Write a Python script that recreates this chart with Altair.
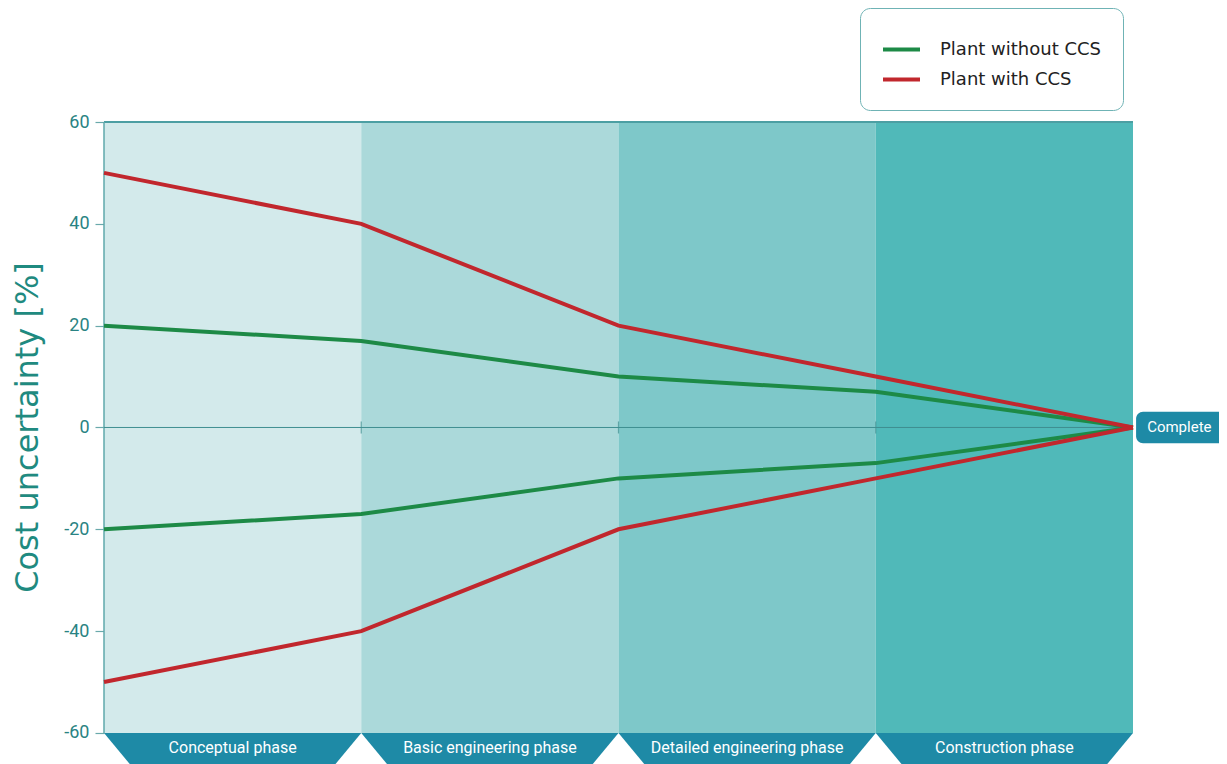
import altair as alt
import pandas as pd

# ---- data ----
stages = [0, 1, 2, 3, 4]
without_ccs = [20, 17, 10, 7, 0]      # upper bound; lower bound is the mirror
with_ccs = [50, 40, 20, 10, 0]
series_names = ["Plant without CCS", "Plant with CCS"]
series_colors = ["#1d8a46", "#c1272d"]

phases = ["Conceptual phase", "Basic engineering phase",
          "Detailed engineering phase", "Construction phase"]
phase_start = [0, 1, 2, 3]
phase_end = [1, 2, 3, 4]
phase_colors = ["#d3eaeb", "#abd9da", "#7ec8c9", "#50b9b9"]
y_ticks = [-60, -40, -20, 0, 20, 40, 60]

TEAL_TEXT = "#2a8383"
TAB = "#1e8aa6"
FONT = "Roboto"
WIDE = "DejaVu Sans"

# ---- tables ----
rows = []
for name, vals in zip(series_names, [without_ccs, with_ccs]):
    for s, v in zip(stages, vals):
        rows.append({"series": name, "bound": "upper", "x": s, "y": v})
        rows.append({"series": name, "bound": "lower", "x": s, "y": -v})
lines_df = pd.DataFrame(rows)

bands_df = pd.DataFrame({"phase": phases, "x0": phase_start, "x1": phase_end,
                         "lo": -60, "hi": 60})

TAB_BOTTOM = -66.1
d = 0.1
tab_rows = []
for p, a, b in zip(phases, phase_start, phase_end):
    for xx, yb in [(a, -60), (a + d, TAB_BOTTOM), (b - d, TAB_BOTTOM), (b, -60)]:
        tab_rows.append({"phase": p, "x": xx, "top": -60, "bot": yb})
tabs_df = pd.DataFrame(tab_rows)

labels_df = pd.DataFrame({"phase": phases,
                          "xc": [(a + b) / 2 for a, b in zip(phase_start, phase_end)],
                          "y": -62.9})

xs = alt.Scale(domain=[0, 4], nice=False, zero=False)
ys = alt.Scale(domain=[TAB_BOTTOM, 60], nice=False, zero=False)

bands = alt.Chart(bands_df).mark_rect().encode(
    x=alt.X("x0:Q", scale=xs, axis=None),
    x2="x1:Q",
    y=alt.Y("lo:Q", scale=ys,
            axis=alt.Axis(values=y_ticks, domain=False, grid=False,
                          labelExpr="'' + datum.value",
                          tickColor="#6aa9ab", tickSize=9, tickWidth=1.2,
                          labelFontSize=18, labelColor=TEAL_TEXT, labelFont=FONT,
                          labelPadding=6,
                          title="Cost uncertainty [%]", titleFontSize=32,
                          titleFont=WIDE, titleFontWeight="normal",
                          titleColor="#1f8a80", titlePadding=19, titleY=305)),
    y2="hi:Q",
    fill=alt.Fill("phase:N", scale=alt.Scale(domain=phases, range=phase_colors),
                  legend=None),
)

tabs = alt.Chart(tabs_df).mark_area(color=TAB, opacity=1).encode(
    x=alt.X("x:Q", scale=xs),
    y=alt.Y("top:Q", scale=ys),
    y2="bot:Q",
    detail="phase:N",
)

tab_text = alt.Chart(labels_df).mark_text(color="white", fontSize=16, font=FONT,
                                          baseline="middle").encode(
    x=alt.X("xc:Q", scale=xs),
    y=alt.Y("y:Q", scale=ys),
    text="phase:N",
)

frame_df = pd.DataFrame({"x0": [0], "x1": [4], "ytop": [60], "y0": [0],
                         "ylo": [-60]})
top_rule = alt.Chart(frame_df).mark_rule(color="#4c9fa3", strokeWidth=2).encode(
    x=alt.X("x0:Q", scale=xs), x2="x1:Q", y=alt.Y("ytop:Q", scale=ys))
left_rule = alt.Chart(frame_df).mark_rule(color="#5fa8ab", strokeWidth=1.5).encode(
    x=alt.X("x0:Q", scale=xs), y=alt.Y("ylo:Q", scale=ys), y2="ytop:Q")
zero_rule = alt.Chart(frame_df).mark_rule(color="#3f8e90", strokeWidth=1).encode(
    x=alt.X("x0:Q", scale=xs), x2="x1:Q", y=alt.Y("y0:Q", scale=ys))

ticks_df = pd.DataFrame({"x": [1, 2, 3], "y": [0, 0, 0]})
zero_ticks = alt.Chart(ticks_df).mark_tick(color="#3f8e90", orient="vertical",
                                           size=12, thickness=1.2).encode(
    x=alt.X("x:Q", scale=xs), y=alt.Y("y:Q", scale=ys))

lines = alt.Chart(lines_df).mark_line(strokeWidth=4).encode(
    x=alt.X("x:Q", scale=xs),
    y=alt.Y("y:Q", scale=ys),
    detail="bound:N",
    color=alt.Color("series:N",
                    scale=alt.Scale(domain=series_names, range=series_colors),
                    sort=series_names,
                    legend=alt.Legend(title=None, orient="none",
                                      legendX=756, legendY=-114,
                                      symbolType="stroke", symbolSize=1369,
                                      symbolStrokeWidth=4, labelFontSize=18,
                                      labelFont=WIDE, labelColor="#222222",
                                      labelLimit=400,
                                      labelOffset=18, rowPadding=0,
                                      padding=21, strokeColor="#6fb3b5",
                                      cornerRadius=10, fillColor="white")),
)

complete_df = pd.DataFrame({"x0": [4.012], "x1": [4.5], "lo": [-3.1], "hi": [3.1],
                            "xt": [4.18], "yt": [0], "label": ["Complete"]})
complete_box = alt.Chart(complete_df).mark_rect(color=TAB, cornerRadius=7).encode(
    x=alt.X("x0:Q", scale=xs), x2="x1:Q",
    y=alt.Y("lo:Q", scale=ys), y2="hi:Q")
complete_text = alt.Chart(complete_df).mark_text(color="white", fontSize=15,
                                                 font=FONT).encode(
    x=alt.X("xt:Q", scale=xs), y=alt.Y("yt:Q", scale=ys), text="label:N")

chart = alt.layer(
    bands, tabs, tab_text, top_rule, left_rule, zero_rule, zero_ticks,
    lines, complete_box, complete_text,
).resolve_scale(color="independent", fill="independent").properties(
    width=1029, height=642,
    autosize=alt.AutoSizeParams(type="none"),
    padding={"left": 96, "top": 114, "right": 86, "bottom": 0},
).configure_view(stroke=None)

chart.save("out.html", embed_options={"renderer": "svg", "actions": False})
